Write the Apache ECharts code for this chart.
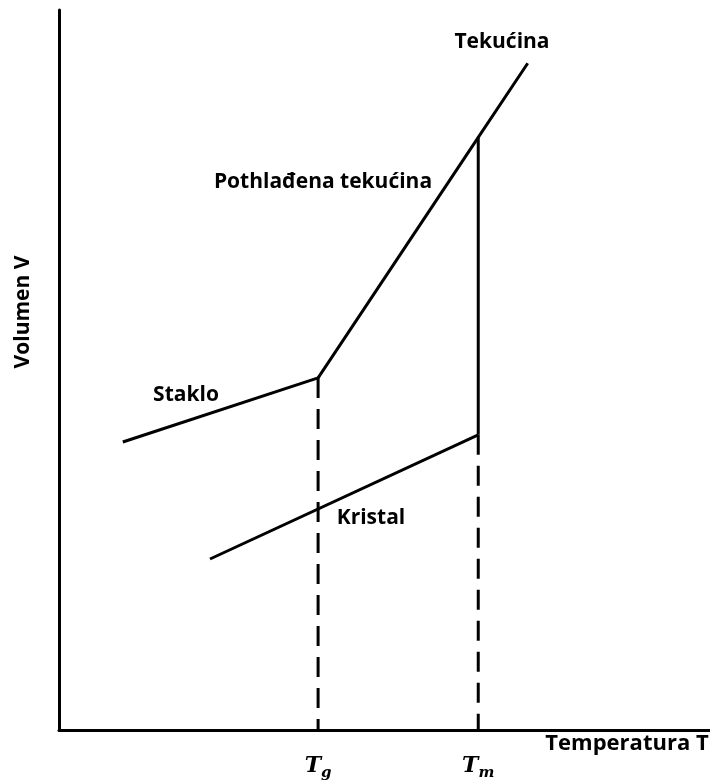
<!DOCTYPE html>
<html>
<head>
<meta charset="utf-8">
<style>
  html, body { margin: 0; padding: 0; background: #fff; }
  #chart { width: 710px; height: 783px; }
</style>
<script src="https://cdn.jsdelivr.net/npm/echarts@6/dist/echarts.min.js"></script>
</head>
<body>
<div id="chart"></div>
<script>
// --- podaci (relativne jedinice, 0..100 na obje osi) ---
const glassT = [9.8, 39.8];
const glassV = [40.0, 48.9];
const liquidT = [39.8, 64.4, 72.0];
const liquidV = [48.9, 82.3, 92.6];
const crystalT = [23.2, 64.4];
const crystalV = [23.75, 41.0];
const Tg = 39.8;
const Tm = 64.4;

const pairs = (xs, ys) => xs.map((x, i) => [x, ys[i]]);

const FONT = '"Open Sans", Lato, sans-serif';
const black = '#000';

// natpis na zadanom središtu
const label = (text, x, y, size, extra) => Object.assign({
    type: 'text', x: x, y: y,
    style: { text: text, font: 'bold ' + size + 'px ' + FONT, fill: black, align: 'center', verticalAlign: 'middle' }
}, extra || {});

const chart = echarts.init(document.getElementById('chart'));

chart.setOption({
    backgroundColor: '#fff',
    animation: false,
    grid: { left: 59, right: 0, top: 10, bottom: 53 },
    xAxis: {
        type: 'value', min: 0, max: 100,
        axisLine: { show: true, onZero: false, lineStyle: { color: black, width: 3 } },
        axisTick: { show: false },
        splitLine: { show: false },
        axisLabel: {
            customValues: [Tg, Tm],
            margin: 22,
            formatter: v => v === Tg ? '{t|T}{s|g}' : '{t|T}{s|m}',
            rich: {
                t: { fontFamily: '"DejaVu Serif", serif', fontStyle: 'italic', fontWeight: 'bold', fontSize: 22, color: black },
                s: { fontFamily: '"DejaVu Serif", serif', fontStyle: 'italic', fontWeight: 'bold', fontSize: 15, color: black, padding: [14, 0, 0, 0] }
            }
        }
    },
    yAxis: {
        type: 'value', min: 0, max: 100,
        axisLine: { show: true, onZero: false, lineStyle: { color: black, width: 3 } },
        axisTick: { show: false },
        axisLabel: { show: false },
        splitLine: { show: false }
    },
    graphic: [
        label('Volumen V', 23, 312, 21, { rotation: Math.PI / 2 }),
        label('Temperatura T', 627, 744, 22),
        label('Staklo', 186, 395, 21),
        label('Pothlađena tekućina', 323, 182, 21),
        label('Tekućina', 502, 42, 21),
        label('Kristal', 371, 518, 21)
    ],
    series: [
        {
            name: 'Staklo', type: 'line', data: pairs(glassT, glassV),
            symbol: 'none', lineStyle: { color: black, width: 3 }
        },
        {
            name: 'Tekućina', type: 'line', data: pairs(liquidT, liquidV),
            symbol: 'none', lineStyle: { color: black, width: 3 }
        },
        {
            name: 'Kristal', type: 'line', data: pairs(crystalT, crystalV),
            symbol: 'none', lineStyle: { color: black, width: 3 }
        },
        {
            name: 'Tm skok', type: 'line', data: [[Tm, crystalV[1]], [Tm, liquidV[1]]],
            symbol: 'none', lineStyle: { color: black, width: 3 }
        },
        {
            name: 'Tg crta', type: 'line', data: [[Tg, glassV[1]], [Tg, 0]],
            symbol: 'none', lineStyle: { color: black, width: 3, type: [20, 11] }
        },
        {
            name: 'Tm crta', type: 'line', data: [[Tm, crystalV[1]], [Tm, 0]],
            symbol: 'none', lineStyle: { color: black, width: 3, type: [20, 11] }
        }
    ]
});
</script>
</body>
</html>
